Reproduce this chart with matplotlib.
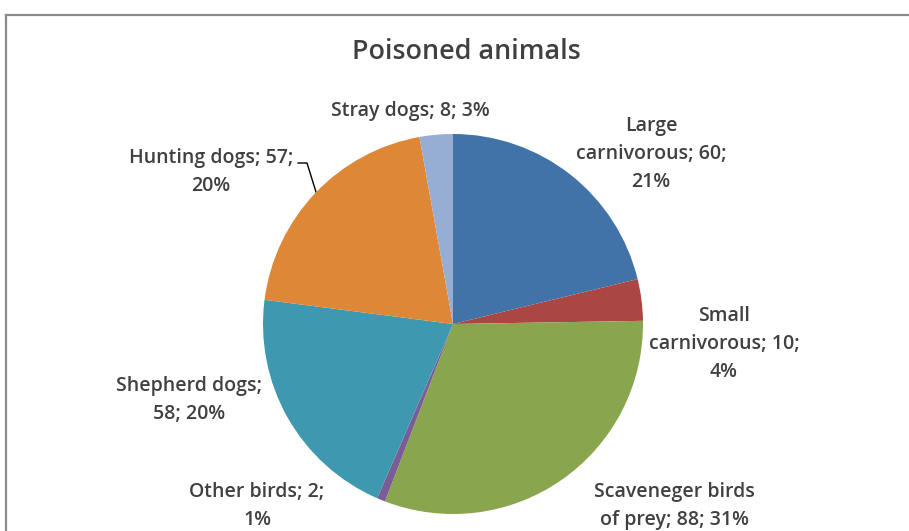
import matplotlib
matplotlib.use("Agg")
import matplotlib.pyplot as plt
from matplotlib.lines import Line2D

categories = ["Large\ncarnivorous", "Small\ncarnivorous", "Scaveneger birds\nof prey",
              "Other birds", "Shepherd dogs", "Hunting dogs", "Stray dogs"]
values = [60, 10, 88, 2, 58, 57, 8]
percents = [21, 4, 31, 1, 20, 20, 3]
label_texts = ["Large\ncarnivorous; 60;\n21%",
               "Small\ncarnivorous; 10;\n4%",
               "Scaveneger birds\nof prey; 88; 31%",
               "Other birds; 2;\n1%",
               "Shepherd dogs;\n58; 20%",
               "Hunting dogs; 57;\n20%",
               "Stray dogs; 8; 3%"]
colors = ["#4173A8", "#AA4643", "#89A54E", "#7A5C96", "#3D98B0", "#DE8737", "#96AED4"]

W, H = 909, 531
fig = plt.figure(figsize=(W / 100, H / 100), dpi=100)

ov = fig.add_axes([0, 0, 1, 1])
ov.set_xlim(0, W)
ov.set_ylim(H, 0)
ov.axis("off")

ov.add_line(Line2D([6, W], [15, 15], color="#8C8C8C", lw=1.6))
ov.add_line(Line2D([6, 6], [15, H], color="#8C8C8C", lw=1.6))

cx, cy, r = 453, 324, 190
pa = fig.add_axes([(cx - r) / W, (H - cy - r) / H, 2 * r / W, 2 * r / H])
pa.pie(values, colors=colors, startangle=90, counterclock=False, radius=1,
       wedgeprops=dict(linewidth=0))
pa.set_xlim(-1, 1)
pa.set_ylim(-1, 1)
pa.axis("off")

font = ["Open Sans", "DejaVu Sans"]
tc = "#404040"
ov.text(466, 52, "Poisoned animals", ha="center", va="center", fontsize=19.4,
        color=tc, family=font, fontweight="semibold")

label_pos = [(651, 154), (724, 344), (674, 506), (257, 506), (189, 400), (211, 172), (410, 111)]
for t, (x, y) in zip(label_texts, label_pos):
    ov.text(x, y, t, ha="center", va="center", fontsize=14, color=tc,
            family=font, fontweight="semibold", linespacing=1.55)

ov.add_line(Line2D([298, 307, 316], [163, 163, 192], color="#000000", lw=1.0))

fig.savefig("out.png", dpi=100)
